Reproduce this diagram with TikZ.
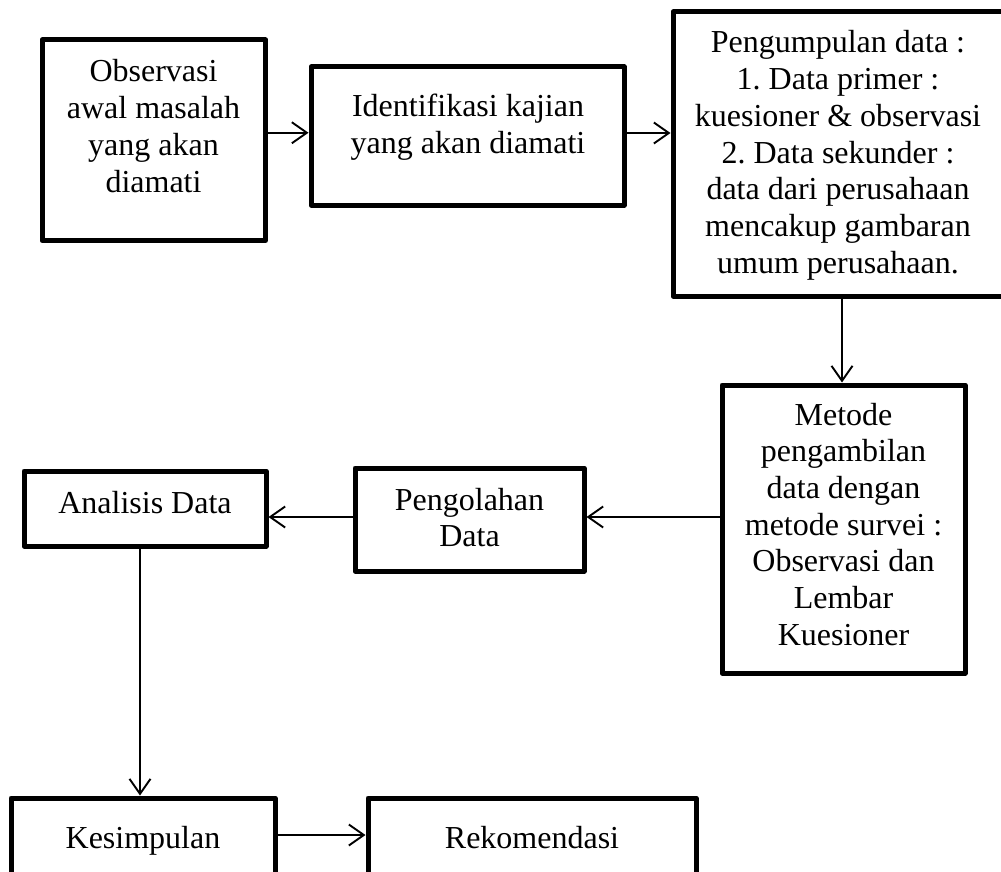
\documentclass[tikz,border=0pt]{standalone}
\usepackage{fontspec}
\setmainfont{Liberation Serif}
\usetikzlibrary{arrows.meta}
\frenchspacing
\newcommand\mylines[1]{\begin{tabular}[t]{@{}c@{}}#1\end{tabular}}
\tikzset{
  box/.style={draw, line width=5pt, line join=round, inner sep=0pt},
  arr/.style={line width=1.9pt, -{Straight Barb[length=15pt,width=21pt]}},
  txt/.style={font=\fontsize{32}{36.7}\selectfont, inner sep=0pt, anchor=base}
}
\begin{document}
\begin{tikzpicture}[x=1pt,y=-1pt]
\useasboundingbox (0,0) rectangle (1001,872);
% boxes
\node[box, minimum width=223.5pt, minimum height=200.5pt] (b1) at (153.75,140.25) {};
\node[box, minimum width=313pt, minimum height=138pt] (b2) at (467.5,136) {};
\node[box, minimum width=330pt, minimum height=284pt] (b3) at (838,154) {};
\node[box, minimum width=243pt, minimum height=288pt] (b4) at (843.5,529) {};
\node[box, minimum width=229pt, minimum height=103pt] (b5) at (469.5,519.5) {};
\node[box, minimum width=242pt, minimum height=75pt] (b6) at (145,508.5) {};
\node[box, minimum width=264pt, minimum height=82pt] (b7) at (143,839) {};
\node[box, minimum width=328pt, minimum height=82pt] (b8) at (532,839) {};
% texts
\node[txt] (t1) at (153.5,82) {\mylines{Observasi\\awal masalah\\yang akan\\diamati}};
\node[txt] (t2) at (468,117) {\mylines{Identifikasi kajian\\yang akan diamati}};
\node[txt] (t3) at (838,53) {\mylines{Pengumpulan data :\\1. Data primer :\\kuesioner \& observasi\\2. Data sekunder :\\data dari perusahaan\\mencakup gambaran\\umum perusahaan.}};
\node[txt] (t4) at (843.5,425) {\mylines{Metode\\pengambilan\\data dengan\\metode survei :\\Observasi dan\\Lembar\\Kuesioner}};
\node[txt] (t5) at (469.5,510) {\mylines{Pengolahan\\Data}};
\node[txt] (t6) at (145,513) {Analisis Data};
\node[txt] (t7) at (143,848) {Kesimpulan};
\node[txt] (t8) at (532,848) {Rekomendasi};
% connectors
\draw[arr] ([yshift=7.5pt]b1.east) -- ([yshift=7.5pt]b1.east -| b2.west);
\draw[arr] ([yshift=3pt]b2.east) -- ([yshift=3pt]b2.east -| b3.west);
\draw[arr] ([xshift=-1.5pt]b4.north |- b3.south) -- ([xshift=-1.5pt]b4.north);
\draw[arr] ([yshift=12pt]b4.west) -- ([yshift=12pt]b4.west -| b5.east);
\draw[arr] ([yshift=12pt]b4.west -| b5.west) -- ([yshift=12pt]b4.west -| b6.east);
\draw[arr] ([xshift=-3pt]b7.north |- b6.south) -- ([xshift=-3pt]b7.north);
\draw[arr] ([yshift=4pt]b7.east) -- ([yshift=4pt]b7.east -| b8.west);
\end{tikzpicture}
\end{document}
